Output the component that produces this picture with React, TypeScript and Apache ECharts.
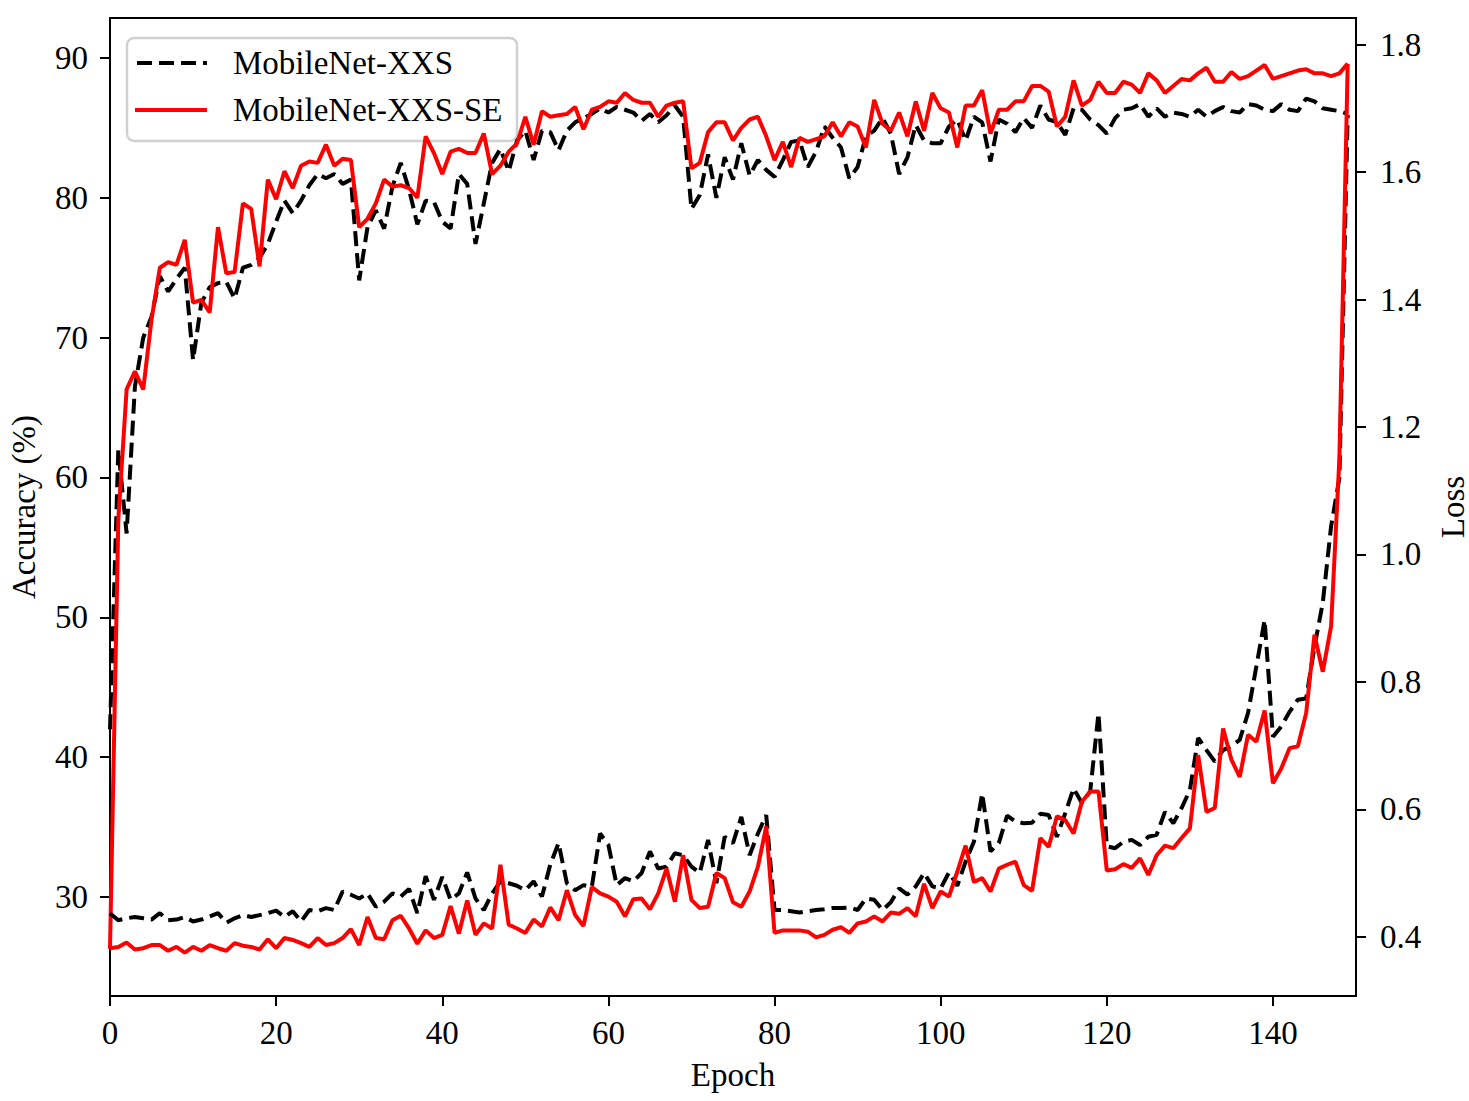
import React, { useEffect, useRef } from "react";
import * as echarts from "echarts";

const xTicks = [0, 20, 40, 60, 80, 100, 120, 140];
const accTicks = [30, 40, 50, 60, 70, 80, 90];
const lossTicks = [0.4, 0.6, 0.8, 1.0, 1.2, 1.4, 1.6, 1.8];

const nameXXS = "MobileNet-XXS";
const nameSE = "MobileNet-XXS-SE";

// accuracy (%) per epoch
const accXXS = [
  42.0, 62.0, 56.0, 66.5, 70.0, 71.5, 74.4, 73.3, 74.2, 75.0,
  68.4, 72.5, 73.6, 73.9, 74.0, 72.8, 75.0, 75.2, 75.7, 76.7,
  78.3, 79.8, 78.9, 79.8, 80.9, 81.7, 81.4, 81.7, 81.0, 81.3,
  74.1, 77.9, 79.1, 77.8, 80.8, 82.5, 80.6, 78.1, 79.8, 79.7,
  78.3, 77.8, 81.7, 81.0, 76.7, 79.6, 82.5, 83.5, 81.9, 84.1,
  84.8, 82.7, 84.8, 84.7, 83.4, 84.8, 85.4, 85.7, 86.0, 86.4,
  86.1, 86.5, 86.3, 86.1, 85.5, 86.0, 85.4, 85.9, 86.6, 85.8,
  79.2, 80.2, 83.1, 80.0, 82.9, 81.3, 83.9, 81.6, 82.7, 82.0,
  81.5, 82.7, 84.0, 84.1, 82.2, 83.3, 85.1, 84.3, 83.6, 81.4,
  82.2, 84.4, 84.8, 85.7, 84.6, 81.7, 82.9, 85.2, 84.1, 83.9,
  83.9, 85.1, 85.6, 84.1, 85.8, 85.4, 82.6, 85.6, 85.3, 84.7,
  85.7, 85.0, 86.6, 85.6, 85.4, 84.5, 86.4, 86.3, 85.6, 85.2,
  84.6, 85.7, 86.3, 86.4, 86.7, 85.8, 86.4, 85.8, 86.1, 86.0,
  85.8, 86.3, 85.8, 86.2, 86.5, 86.2, 86.1, 86.7, 86.6, 86.3,
  86.2, 86.7, 86.3, 86.2, 87.1, 86.9, 86.4, 86.3, 86.2, 86.0,
];

const accSE = [
  26.3, 57.0, 66.3, 67.6, 66.3, 71.3, 75.0, 75.4, 75.2, 77.0,
  72.5, 72.7, 71.8, 77.9, 74.6, 74.7, 79.6, 79.2, 75.1, 81.3,
  79.9, 81.9, 80.7, 82.3, 82.6, 82.5, 83.8, 82.3, 82.8, 82.7,
  77.9, 78.5, 79.6, 81.3, 80.8, 80.9, 80.7, 80.0, 84.4, 83.2,
  81.7, 83.3, 83.5, 83.2, 83.2, 84.6, 81.7, 82.3, 83.3, 83.9,
  85.8, 83.8, 86.2, 85.8, 85.9, 86.0, 86.5, 84.9, 86.3, 86.5,
  86.9, 86.8, 87.5, 87.0, 86.8, 86.8, 85.8, 86.6, 86.8, 86.9,
  82.1, 82.5, 84.7, 85.4, 85.4, 84.1, 85.0, 85.6, 85.8, 84.4,
  82.7, 84.0, 82.2, 84.3, 84.0, 84.2, 84.4, 85.4, 84.4, 85.4,
  85.1, 83.6, 87.0, 85.3, 84.8, 86.1, 84.4, 86.9, 84.8, 87.5,
  86.4, 86.1, 83.6, 86.6, 86.6, 87.7, 84.6, 86.3, 86.3, 86.9,
  86.9, 88.0, 88.0, 87.6, 85.1, 85.8, 88.4, 86.6, 87.0, 88.3,
  87.5, 87.5, 88.3, 88.1, 87.5, 88.9, 88.4, 87.5, 88.0, 88.5,
  88.4, 88.9, 89.3, 88.3, 88.3, 89.0, 88.5, 88.7, 89.1, 89.5,
  88.5, 88.7, 88.9, 89.1, 89.2, 88.9, 88.9, 88.7, 88.9, 89.6,
];

// loss per epoch
const lossXXS = [
  0.437, 0.426, 0.429, 0.431, 0.429, 0.427, 0.437, 0.426, 0.427, 0.431,
  0.424, 0.427, 0.432, 0.437, 0.422, 0.429, 0.434, 0.431, 0.434, 0.437,
  0.441, 0.431, 0.44, 0.424, 0.442, 0.44, 0.445, 0.442, 0.471, 0.466,
  0.46, 0.468, 0.447, 0.455, 0.468, 0.463, 0.475, 0.437, 0.495, 0.458,
  0.494, 0.458, 0.468, 0.501, 0.46, 0.442, 0.468, 0.487, 0.484, 0.48,
  0.473, 0.487, 0.463, 0.513, 0.547, 0.484, 0.473, 0.481, 0.478, 0.562,
  0.544, 0.481, 0.492, 0.487, 0.5, 0.534, 0.507, 0.51, 0.531, 0.528,
  0.51, 0.5, 0.552, 0.484, 0.557, 0.547, 0.588, 0.528, 0.562, 0.591,
  0.442, 0.442, 0.44, 0.438, 0.44, 0.442, 0.443, 0.445, 0.445, 0.446,
  0.442, 0.46, 0.458, 0.442, 0.454, 0.476, 0.466, 0.479, 0.5, 0.479,
  0.476, 0.501, 0.48, 0.518, 0.549, 0.625, 0.534, 0.547, 0.59, 0.581,
  0.578, 0.579, 0.593, 0.591, 0.557, 0.594, 0.633, 0.61, 0.628, 0.751,
  0.542, 0.539, 0.549, 0.552, 0.544, 0.557, 0.56, 0.596, 0.578, 0.602,
  0.63, 0.712, 0.693, 0.675, 0.693, 0.699, 0.709, 0.751, 0.824, 0.897,
  0.714, 0.73, 0.753, 0.772, 0.774, 0.855, 0.924, 1.044, 1.12, 1.69,
];

const lossSE = [
  0.382, 0.384, 0.391, 0.38, 0.382, 0.387, 0.387, 0.378, 0.384, 0.375,
  0.384, 0.378, 0.387, 0.382, 0.378, 0.39, 0.386, 0.384, 0.38, 0.396,
  0.382, 0.398, 0.395, 0.39, 0.384, 0.398, 0.387, 0.39, 0.398, 0.412,
  0.387, 0.431, 0.398, 0.396, 0.426, 0.433, 0.413, 0.389, 0.41, 0.398,
  0.403, 0.448, 0.405, 0.457, 0.403, 0.421, 0.413, 0.513, 0.419, 0.413,
  0.406, 0.427, 0.416, 0.446, 0.426, 0.473, 0.434, 0.417, 0.478, 0.468,
  0.463, 0.455, 0.432, 0.459, 0.46, 0.443, 0.468, 0.507, 0.455, 0.528,
  0.458, 0.445, 0.447, 0.5, 0.492, 0.454, 0.447, 0.471, 0.51, 0.573,
  0.406, 0.41, 0.41, 0.41, 0.408, 0.399, 0.403, 0.411, 0.415, 0.406,
  0.421, 0.424, 0.432, 0.424, 0.438, 0.436, 0.445, 0.432, 0.483, 0.445,
  0.471, 0.463, 0.502, 0.543, 0.486, 0.492, 0.471, 0.507, 0.513, 0.518,
  0.481, 0.472, 0.555, 0.541, 0.589, 0.583, 0.562, 0.612, 0.628, 0.628,
  0.504, 0.506, 0.514, 0.508, 0.523, 0.497, 0.528, 0.543, 0.539, 0.555,
  0.57, 0.685, 0.596, 0.602, 0.727, 0.678, 0.651, 0.717, 0.706, 0.755,
  0.641, 0.664, 0.696, 0.699, 0.751, 0.874, 0.816, 0.887, 1.15, 1.77,
];

const FONT = "'Liberation Serif', 'DejaVu Serif', serif";
const FS = 33;
const DASH = [15, 7];

function pairs(arr: number[]) {
  return arr.map((v, i) => [i, v]);
}

export default function App() {
  const ref = useRef<HTMLDivElement>(null);

  useEffect(() => {
    if (!ref.current) return;
    document.body.style.margin = "0";
    document.body.style.overflow = "hidden";
    const chart = echarts.init(ref.current, null, { renderer: "svg" });

    const axisText = { fontFamily: FONT, fontSize: FS, color: "#000" };
    const lineS = { color: "#000", width: 2 };

    const option: any = {
      animation: false,
      backgroundColor: "#fff",
      grid: {
        left: 110,
        top: 18,
        width: 1246,
        height: 978,
        containLabel: false,
        outerBoundsMode: "none",
        show: true,
        borderColor: "#000",
        borderWidth: 2,
        backgroundColor: "transparent",
      },
      xAxis: {
        type: "value",
        min: 0,
        max: 150,
        axisLine: { show: true, onZero: false, lineStyle: lineS },
        axisTick: { show: true, inside: false, length: 10, lineStyle: lineS, customValues: xTicks },
        axisLabel: { ...axisText, margin: 20, customValues: xTicks },
        splitLine: { show: false },
        name: "Epoch",
        nameLocation: "middle",
        nameGap: 62,
        nameTextStyle: axisText,
      },
      yAxis: [
        {
          type: "value",
          position: "left",
          min: 22.92,
          max: 92.86,
          axisLine: { show: true, onZero: false, lineStyle: lineS },
          axisTick: { show: true, inside: false, length: 10, lineStyle: lineS, customValues: accTicks },
          axisLabel: { ...axisText, margin: 22, customValues: accTicks },
          splitLine: { show: false },
          name: "Accuracy (%)",
          nameLocation: "middle",
          nameRotate: 90,
          nameGap: 70,
          nameTextStyle: axisText,
        },
        {
          type: "value",
          position: "right",
          min: 0.307,
          max: 1.842,
          axisLine: { show: true, onZero: false, lineStyle: lineS },
          axisTick: { show: true, inside: false, length: 10, lineStyle: lineS, customValues: lossTicks },
          axisLabel: {
            ...axisText,
            margin: 24,
            customValues: lossTicks,
            formatter: (v: number) => v.toFixed(1),
          },
          splitLine: { show: false },
          name: "Loss",
          nameLocation: "middle",
          nameRotate: 90,
          nameGap: 80,
          nameTextStyle: axisText,
        },
      ],
      series: [
        {
          name: nameXXS,
          type: "line",
          yAxisIndex: 0,
          data: pairs(accXXS),
          showSymbol: false,
          symbol: "none",
          lineStyle: { color: "#000", width: 4, type: DASH },
        },
        {
          name: nameSE,
          type: "line",
          yAxisIndex: 0,
          data: pairs(accSE),
          showSymbol: false,
          symbol: "none",
          lineStyle: { color: "#ff0000", width: 4 },
        },
        {
          name: nameXXS,
          type: "line",
          yAxisIndex: 1,
          data: pairs(lossXXS),
          showSymbol: false,
          symbol: "none",
          lineStyle: { color: "#000", width: 4, type: DASH },
        },
        {
          name: nameSE,
          type: "line",
          yAxisIndex: 1,
          data: pairs(lossSE),
          showSymbol: false,
          symbol: "none",
          lineStyle: { color: "#ff0000", width: 4 },
        },
      ],
      graphic: [
        {
          type: "group",
          z: 100,
          children: [
            {
              type: "rect",
              shape: { x: 127, y: 38, width: 390, height: 103, r: 7 },
              style: { fill: "rgba(255,255,255,0.8)", stroke: "#d0d0d0", lineWidth: 2.5 },
            },
            {
              type: "line",
              shape: { x1: 137, y1: 63, x2: 207, y2: 63 },
              style: { stroke: "#000", lineWidth: 4, lineDash: DASH },
            },
            {
              type: "text",
              x: 233,
              y: 63,
              style: { text: nameXXS, fontFamily: FONT, fontSize: FS, fill: "#000", verticalAlign: "middle", align: "left" },
            },
            {
              type: "line",
              shape: { x1: 135, y1: 110, x2: 207, y2: 110 },
              style: { stroke: "#ff0000", lineWidth: 4 },
            },
            {
              type: "text",
              x: 233,
              y: 110,
              style: { text: nameSE, fontFamily: FONT, fontSize: FS, fill: "#000", verticalAlign: "middle", align: "left" },
            },
          ],
        },
      ],
    };

    chart.setOption(option);
    return () => chart.dispose();
  }, []);

  return (
    <div
      ref={ref}
      style={{ position: "fixed", left: 0, top: 0, right: 0, bottom: 0, background: "#fff" }}
    />
  );
}
